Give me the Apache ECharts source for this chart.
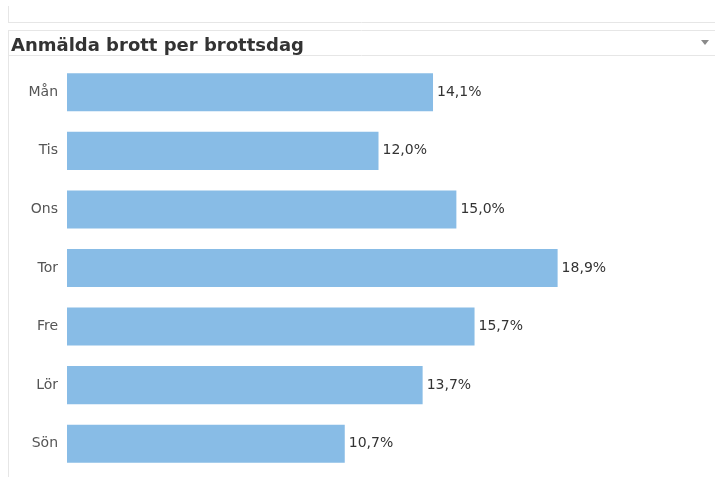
<!DOCTYPE html>
<html><head><meta charset="utf-8">
<script src="https://cdn.jsdelivr.net/npm/echarts@6/dist/echarts.min.js"></script>
<style>html,body{margin:0;padding:0;background:#fff}#c{width:715px;height:477px}</style>
</head><body><div id="c"></div>
<script>
const titleText = 'Anmälda brott per brottsdag';
const categories = ['Mån','Tis','Ons','Tor','Fre','Lör','Sön'];
const values = [14.1, 12.0, 15.0, 18.9, 15.7, 13.7, 10.7];

const chart = echarts.init(document.getElementById('c'));
chart.setOption({
  animation: false,
  title: {
    text: titleText, left: 6, top: 32,
    textStyle: { fontFamily: 'DejaVu Sans', fontWeight: 'bold', fontSize: 18, color: '#333' }
  },
  graphic: [
    { type: 'line', shape: { x1: 8.5, y1: 6, x2: 8.5, y2: 22.5 }, style: { stroke: '#e6e6e6', lineWidth: 1 } },
    { type: 'line', shape: { x1: 8, y1: 22.5, x2: 715, y2: 22.5 }, style: { stroke: '#e6e6e6', lineWidth: 1 } },
    { type: 'line', shape: { x1: 8, y1: 30.5, x2: 715, y2: 30.5 }, style: { stroke: '#e6e6e6', lineWidth: 1 } },
    { type: 'line', shape: { x1: 8, y1: 55.5, x2: 715, y2: 55.5 }, style: { stroke: '#e6e6e6', lineWidth: 1 } },
    { type: 'line', shape: { x1: 8.5, y1: 30, x2: 8.5, y2: 477 }, style: { stroke: '#e6e6e6', lineWidth: 1 } },
    { type: 'polygon', shape: { points: [[701, 40], [709, 40], [705, 45]] }, style: { fill: '#8a8a8a' } }
  ],
  grid: { left: 67, top: 63, width: 623, height: 410 },
  xAxis: { type: 'value', min: 0, max: 24, show: false },
  yAxis: {
    type: 'category', data: categories, inverse: true,
    axisLine: { show: false }, axisTick: { show: false },
    axisLabel: { margin: 9, fontFamily: 'DejaVu Sans', fontSize: 14, color: '#555' }
  },
  series: [{
    type: 'bar', data: values, barCategoryGap: '35%',
    itemStyle: { color: '#88bce6' },
    label: {
      show: true, position: 'right', distance: 4,
      fontFamily: 'DejaVu Sans', fontSize: 14, color: '#333',
      formatter: p => p.value.toFixed(1).replace('.', ',') + '%'
    }
  }]
});
</script></body></html>
